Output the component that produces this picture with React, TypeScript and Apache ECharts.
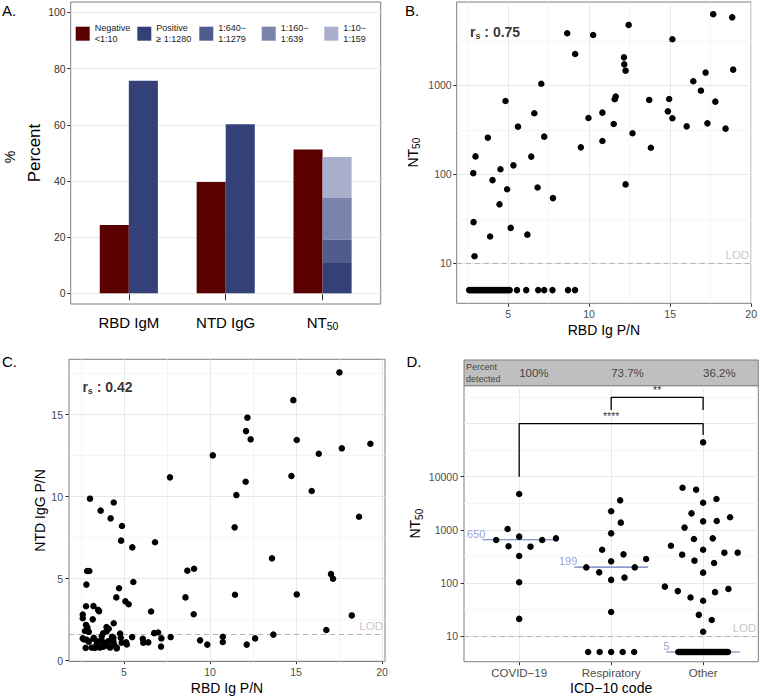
import React, { useEffect, useRef } from 'react';
import * as echarts from 'echarts';

const FONT = '"Liberation Sans", Arial, Helvetica, sans-serif';

// ---------------- Panel A : percent positive ----------------
const assayCategories = ['RBD IgM', 'NTD IgG', 'NT50'];
const negativePercent = [24.3, 39.6, 51.2];
const positive1280Percent = [75.7, 60.2, 10.8];
const positive640Percent = [0, 0, 8.4];
const positive160Percent = [0, 0, 14.7];
const positive10Percent = [0, 0, 14.6];
const percentTicks = [0, 20, 40, 60, 80, 100];

// ---------------- Panel B : NT50 vs RBD Ig P/N ----------------
const bRbd = [
  17.66, 18.83, 12.44, 8.65, 10.25, 15.14, 9.14, 12.15, 12.17, 12.25, 17.19, 18.89,
  7.05, 16.43, 16.9, 11.64, 11.58, 4.84, 13.71, 14.94, 17.79, 14.86, 10.82, 6.62,
  9.96, 15.14, 5.61, 11.52, 16.02, 17.3, 18.42, 12.68, 7.23, 3.75, 10.82, 9.49,
  13.81, 2.99, 6.43, 5.33, 4.53, 2.85, 4.04, 12.25, 4.94, 6.82, 7.77, 4.47, 2.87,
  5.16, 3.89, 6.19, 2.93,
  2.6, 2.7, 2.8, 2.9, 3.0, 3.1, 3.2, 3.3, 3.4, 3.5, 3.6, 3.7, 3.8, 3.9, 4.0, 4.1,
  4.2, 4.3, 4.4, 4.5, 4.6, 4.7, 4.8, 4.9, 5.0, 5.1, 5.55, 6.12, 6.86, 7.23, 7.74,
  8.7, 9.13,
];
const bNt50 = [
  6300, 5800, 4770, 3840, 3680, 3290, 2250, 2060, 1720, 1460, 1390, 1500,
  1040, 1110, 870, 746, 697, 667, 685, 702, 655, 510, 493, 485,
  429, 426, 343, 368, 346, 374, 326, 289, 265, 258, 237, 201,
  199, 159, 158, 126, 114, 103, 86, 77, 68, 71, 54, 46, 29,
  25, 20, 21, 12,
  5, 5, 5, 5, 5, 5, 5, 5, 5, 5, 5, 5, 5, 5, 5, 5,
  5, 5, 5, 5, 5, 5, 5, 5, 5, 5, 5, 5, 5, 5, 5,
  5, 5,
];
const bCorrelation = '0.75';
const bXTicks = [5, 10, 15, 20];
const bXMinor = [2.5, 7.5, 12.5, 17.5];
const bYTicks = [10, 100, 1000];
const bYMinor = [3.162, 31.62, 316.2, 3162];

// ---------------- Panel C : NTD IgG vs RBD Ig ----------------
const cRbd = [
  17.52, 14.84, 12.17, 12.09, 12.36, 15.04, 17.66, 19.32, 16.32, 10.16, 7.67, 14.73,
  12.07, 11.53, 15.91, 3.02, 4.4, 3.64, 4.22, 18.66, 4.88, 11.43, 4.83, 6.8, 5.48,
  13.6, 2.85, 2.98, 8.68, 9.07, 17.03, 17.15, 5.54, 2.81, 4.71, 8.57, 4.55, 11.45,
  15.04, 5.08, 5.27, 2.79, 3.22, 3.49, 3.55, 6.57, 9.05, 18.24, 2.6, 2.6, 3.18, 4.4,
  2.79, 2.87, 3.98, 4.11, 16.76, 2.73, 2.95, 3.99, 3.78, 4.77, 6.75, 6.98, 13.68,
  2.6, 2.83, 3.22, 3.24, 3.7, 4.3, 4.81, 4.38, 5.47, 6.09, 7.17, 7.71, 10.74, 12.62,
  2.67, 9.42, 10.74, 6.12, 6.41, 5.12, 2.95, 3.41, 3.99, 4.42, 3.8, 4.09, 3.57, 9.84,
  12.13, 7.15, 4.57, 2.77, 4.86, 3.41, 3.7, 3.9, 4.09, 4.38, 5.16, 3.12, 3.31, 3.6,
  4.19, 4.58,
];
const cNtd = [
  17.58, 15.89, 14.82, 14.0, 13.5, 13.46, 12.95, 13.23, 12.62, 12.52, 11.18, 11.26,
  10.91, 10.1, 10.35, 9.88, 9.65, 9.15, 8.68, 8.78, 8.21, 8.13, 7.32, 7.22, 6.91,
  6.24, 5.47, 5.47, 5.49, 5.61, 5.28, 5.0, 4.8, 4.64, 4.42, 3.86, 3.86, 4.02,
  4.04, 3.62, 3.44, 3.32, 3.33, 3.1, 3.02, 3.0, 2.83, 2.76, 2.82, 2.59, 2.52, 2.28,
  2.18, 2.03, 2.05, 1.95, 1.87, 1.81, 1.76, 1.8, 1.67, 1.66, 1.68, 1.72, 1.59,
  1.36, 1.28, 1.34, 1.4, 1.48, 1.46, 1.4, 1.4, 1.44, 1.33, 1.36, 1.44, 1.46, 1.36,
  1.3, 1.24, 1.14, 1.1, 1.12, 1.12, 1.16, 1.0, 1.02, 0.98, 0.85, 0.89, 0.89, 0.98,
  0.98, 0.86, 0.75, 0.78, 1.1, 1.2, 1.23, 1.07, 1.19, 1.19, 0.99, 0.8, 0.78, 0.8,
  0.8, 0.8,
];
const cCorrelation = '0.42';
const cLod = 1.61;
const cYTicks = [0, 5, 10, 15];
const cYMinor = [2.5, 7.5, 12.5, 17.5];

// ---------------- Panel D : NT50 by ICD-10 code ----------------
const icdCategories = ['COVID\u221219', 'Respiratory', 'Other'];
const percentDetected = ['100%', '73.7%', '36.2%'];
const groupMedians = [650, 199, 5];
const covidNt50 = [4720, 1035, 743, 643, 643, 690, 489, 481, 321, 103, 21];
const covidJitter = [0, -0.126, 0, -0.25, 0.25, 0.4, -0.116, 0.123, 0, 0, 0];
const covidUndetected: number[] = [];
const respNt50 = [3590, 2230, 1364, 858, 422, 345, 282, 255, 196, 196, 158, 126, 114, 28.3];
const respJitter = [0.098, 0, 0.105, 0, -0.098, 0.134, 0.38, 0, -0.27, 0.257, -0.13, 0.145, 0, 0];
const respUndetected = [5, 5, 5, 5, 5];
const otherNt50 = [
  44400, 6210, 5700, 3800, 3240, 2040, 1720, 1443, 1466, 1100, 671, 690, 502, 422,
  371, 371, 340, 262, 237, 156, 85, 70, 77, 53, 67, 46, 25, 20, 12,
];
const otherJitter = [
  0, -0.224, -0.076, 0.145, 0, -0.126, 0.293, 0, 0.148, -0.202, -0.1, 0.105, -0.35, 0,
  0.231, 0.376, -0.228, -0.094, 0.119, 0, -0.416, -0.275, 0.275, -0.137, 0.13, 0, -0.047, 0.094, 0,
];
const otherUndetected = [
  5, 5, 5, 5, 5, 5, 5, 5, 5, 5, 5, 5, 5, 5, 5, 5, 5, 5, 5, 5, 5, 5, 5, 5, 5, 5,
  5, 5, 5, 5, 5, 5, 5, 5, 5, 5, 5, 5, 5, 5, 5, 5, 5, 5, 5, 5, 5, 5, 5, 5, 5,
];
const dYTicks = [10, 100, 1000, 10000];
const dYMajorGrid = [10, 100, 1000, 10000, 100000];
const dYMinor = [31.62, 316.2, 3162, 31623, 316228];
const lodValue = 10;
const brackets = [
  { from: 1, to: 3, top: 100000, leftEnd: 10000, rightEnd: 61000, label: '****' },
  { from: 2, to: 3, top: 313000, leftEnd: 180000, rightEnd: 180000, label: '**' },
];

// ---------------- styling ----------------
const BORDER = '#7f7f7f';
const TICK = '#333333';
const TICKLABEL = '#4d4d4d';
const GRID_MAJOR = '#e8e8e8';
const GRID_MINOR = '#f2f2f2';
const COLORS = {
  neg: '#5b0000',
  p1280: '#344178',
  p640: '#505b8e',
  p160: '#7a83ab',
  p10: '#a9aecb',
  median: '#6577b8',
  medianText: '#7f8cc8',
};

function spreadTies(n: number, spacing: number, halfWidth: number) {
  const step = n > 1 ? Math.min(spacing, (2 * halfWidth) / (n - 1)) : 0;
  return Array.from({ length: n }, (_, k) => (k - (n - 1) / 2) * step);
}

function gridHelper(idx: number, xMajor: number[], xMinor: number[], yMajor: number[], yMinor: number[], extra: any[] = []) {
  const maj = { color: GRID_MAJOR, width: 1, type: 'solid' };
  const mnr = { color: GRID_MINOR, width: 0.8, type: 'solid' };
  return {
    type: 'scatter',
    xAxisIndex: idx,
    yAxisIndex: idx,
    data: [],
    silent: true,
    z: 1,
    markLine: {
      silent: true,
      symbol: ['none', 'none'],
      animation: false,
      label: { show: false },
      emphasis: { disabled: true },
      data: [
        ...xMinor.map((v) => ({ xAxis: v, lineStyle: mnr })),
        ...yMinor.map((v) => ({ yAxis: v, lineStyle: mnr })),
        ...xMajor.map((v) => ({ xAxis: v, lineStyle: maj })),
        ...yMajor.map((v) => ({ yAxis: v, lineStyle: maj })),
        ...extra,
      ],
    },
  };
}

function lodLine(v: number) {
  return {
    yAxis: v,
    lineStyle: { color: '#b3b3b3', width: 1, type: [5, 4] },
    label: { show: true, position: 'insideEndTop', formatter: 'LOD', color: '#c8c8c8', fontSize: 11.5, fontFamily: FONT, distance: 2 },
  };
}

const sciRich = {
  t: { fontSize: 14, lineHeight: 18, color: '#000', fontFamily: FONT },
  s: { fontSize: 10, lineHeight: 10, verticalAlign: 'bottom', color: '#000', fontFamily: FONT },
};

function valueAxis(gridIndex: number, o: any) {
  const ticks = o.ticks;
  return {
    gridIndex,
    type: o.type || 'value',
    logBase: 10,
    min: o.min,
    max: o.max,
    splitLine: { show: false },
    minorSplitLine: { show: false },
    axisLine: { show: false },
    axisTick: { show: true, length: o.tickLen || 3.5, customValues: ticks, lineStyle: { color: TICK, width: 1 } },
    axisLabel: {
      customValues: ticks,
      margin: o.margin || 5,
      fontSize: o.fontSize || 10.5,
      color: o.labelColor || TICKLABEL,
      fontFamily: FONT,
      formatter: o.formatter || ((v: number) => (ticks.some((t: number) => Math.abs(t - v) < 1e-6 * Math.max(1, Math.abs(t))) ? String(v) : '')),
      rich: o.rich,
    },
    name: o.name,
    nameLocation: 'middle',
    nameGap: o.nameGap,
    nameTextStyle: { fontSize: o.nameSize || 14, color: '#000', fontFamily: FONT, rich: o.nameRich },
  };
}

function barSeries(name: string, color: string, los: number[], his: number[], side: number) {
  return {
    type: 'custom',
    name,
    xAxisIndex: 0,
    yAxisIndex: 0,
    z: 10,
    itemStyle: { color },
    encode: { x: 0, y: [1, 2] },
    data: his.map((h, i) => [i + 1, los[i], h]).filter((d) => d[2] > d[1]),
    renderItem: (params: any, api: any) => {
      const x = api.value(0);
      const top = api.coord([x, api.value(2)]);
      const bot = api.coord([x, api.value(1)]);
      const w = api.size([0.3, 0])[0];
      return {
        type: 'rect',
        shape: { x: side < 0 ? bot[0] - w : bot[0], y: top[1], width: w, height: bot[1] - top[1] },
        style: { fill: api.visual('color') },
      };
    },
  };
}

const noBorderLabel = { textBorderWidth: 0, textBorderColor: 'transparent', textShadowBlur: 0 };

function buildOption() {
  // stacked NT50 titres
  const zeros = negativePercent.map(() => 0);
  const c1 = positive1280Percent.map((v, i) => zeros[i] + v);
  const c2 = c1.map((v, i) => v + positive640Percent[i]);
  const c3 = c2.map((v, i) => v + positive160Percent[i]);
  const c4 = c3.map((v, i) => v + positive10Percent[i]);

  const legendItems = [
    { name: 'neg', label: 'Negative\n<1:10', left: 75.7 },
    { name: 'p1280', label: 'Positive\n\u2265 1:1280', left: 137.3 },
    { name: 'p640', label: '1:640\u2212\n1:1279', left: 199.3 },
    { name: 'p160', label: '1:160\u2212\n1:639', left: 261.7 },
    { name: 'p10', label: '1:10\u2212\n1:159', left: 324.3 },
  ];

  // panel D points
  const groups = [
    { v: covidNt50, j: covidJitter, u: covidUndetected },
    { v: respNt50, j: respJitter, u: respUndetected },
    { v: otherNt50, j: otherJitter, u: otherUndetected },
  ];
  const dPoints: number[][] = [];
  groups.forEach((g, gi) => {
    g.v.forEach((val, k) => dPoints.push([gi + 1 + g.j[k], val]));
    const offs = spreadTies(g.u.length, 0.125, 0.27);
    g.u.forEach((val, k) => dPoints.push([gi + 1 + offs[k], val]));
  });

  const rsRich = {
    r: { fontSize: 14, fontWeight: 'bold', color: '#000', fontFamily: FONT, lineHeight: 18 },
    s: { fontSize: 9, fontWeight: 'bold', color: '#000', fontFamily: FONT, verticalAlign: 'bottom', lineHeight: 9 },
  };

  const annot = (idx: number, x: number, y: number, text: string) => ({
    type: 'scatter',
    xAxisIndex: idx,
    yAxisIndex: idx,
    symbolSize: 0,
    silent: true,
    z: 12,
    itemStyle: { color: '#000' },
    data: [[x, y]],
    label: { show: true, position: 'right', distance: 0, formatter: text, rich: rsRich, ...noBorderLabel },
  });

  const points = (idx: number, data: number[][]) => ({
    type: 'scatter', xAxisIndex: idx, yAxisIndex: idx, z: 10, symbolSize: 6.5, silent: true,
    itemStyle: { color: '#000', opacity: 1 },
    data,
  });

  const gridBox = { show: true, borderColor: BORDER, borderWidth: 1, backgroundColor: 'transparent' };

  return {
    animation: false,
    backgroundColor: '#ffffff',
    textStyle: { fontFamily: FONT },
    grid: [
      { left: 70.7, top: 2, width: 310, height: 302, ...gridBox },
      { left: 456.7, top: 2, width: 296, height: 301.3, ...gridBox },
      { left: 69, top: 359.3, width: 316, height: 302.2, ...gridBox },
      { left: 464, top: 385.7, width: 294.3, height: 276, ...gridBox },
      { left: 464, top: 360, width: 294.3, height: 25.7, show: true, borderColor: BORDER, borderWidth: 1, backgroundColor: '#bfbfbf' },
    ],
    xAxis: [
      valueAxis(0, {
        min: 0.4, max: 3.6, ticks: [1, 2, 3], tickLen: 7, margin: 9, fontSize: 15, labelColor: '#000',
        formatter: (v: number) => {
          const s = assayCategories[Math.round(v) - 1] || '';
          return s === 'NT50' ? '{a|NT}{b|50}' : '{a|' + s + '}';
        },
        rich: {
          a: { fontSize: 15, lineHeight: 18, color: '#000', fontFamily: FONT },
          b: { fontSize: 10.5, lineHeight: 10, verticalAlign: 'bottom', color: '#000', fontFamily: FONT },
        },
      }),
      valueAxis(1, { min: 1.83, max: 20, ticks: bXTicks, name: 'RBD Ig P/N', nameGap: 20 }),
      valueAxis(2, { min: 1.8, max: 20.17, ticks: bXTicks, name: 'RBD Ig P/N', nameGap: 19 }),
      valueAxis(3, {
        min: 0.4, max: 3.6, ticks: [1, 2, 3], fontSize: 11.5, margin: 5,
        formatter: (v: number) => icdCategories[Math.round(v) - 1] || '',
        name: 'ICD\u221210 code', nameGap: 19,
      }),
      { gridIndex: 4, type: 'value', min: 0.4, max: 3.6, show: false },
    ],
    yAxis: [
      valueAxis(0, { min: -3.8, max: 103.7, ticks: percentTicks, labelColor: '#333', name: 'Percent', nameSize: 17, nameGap: 28 }),
      valueAxis(1, {
        type: 'log', min: 3.553, max: 8630, ticks: bYTicks, margin: 5,
        name: '{t|NT}{s|50}', nameGap: 35, nameRich: sciRich,
      }),
      valueAxis(2, { min: -0.05, max: 18.38, ticks: cYTicks, margin: 6, name: 'NTD IgG P/N', nameGap: 20 }),
      valueAxis(3, {
        type: 'log', min: 3.28, max: 517600, ticks: dYTicks, margin: 6,
        name: '{t|NT}{s|50}', nameGap: 40, nameRich: sciRich,
      }),
      { gridIndex: 4, type: 'value', min: 0, max: 1, show: false },
    ],
    legend: legendItems.map((it) => ({
      data: [it.name],
      left: it.left,
      top: 17.2,
      padding: 0,
      itemWidth: 14,
      itemHeight: 14,
      itemGap: 0,
      icon: 'rect',
      selectedMode: false,
      formatter: () => it.label,
      textStyle: { fontSize: 9, lineHeight: 11.5, color: '#1a1a1a', fontFamily: FONT, padding: [0, 0, 10, 0] },
    })),
    graphic: [
      { type: 'text', x: 2, y: 10, style: { text: 'A.', fontSize: 15, fill: '#000', fontFamily: FONT, verticalAlign: 'middle' } },
      { type: 'text', x: 405, y: 10, style: { text: 'B.', fontSize: 15, fill: '#000', fontFamily: FONT, verticalAlign: 'middle' } },
      { type: 'text', x: 2, y: 361, style: { text: 'C.', fontSize: 15, fill: '#000', fontFamily: FONT, verticalAlign: 'middle' } },
      { type: 'text', x: 406.5, y: 361.5, style: { text: 'D.', fontSize: 15, fill: '#000', fontFamily: FONT, verticalAlign: 'middle' } },
      { type: 'text', x: 9.5, y: 157, rotation: Math.PI / 2, style: { text: '%', fontSize: 14, fill: '#000', fontFamily: FONT, align: 'center', verticalAlign: 'middle' } },
    ],
    series: [
      // Panel A
      gridHelper(0, [], [], percentTicks, []),
      barSeries('neg', COLORS.neg, zeros, negativePercent, -1),
      barSeries('p1280', COLORS.p1280, zeros, c1, 1),
      barSeries('p640', COLORS.p640, c1, c2, 1),
      barSeries('p160', COLORS.p160, c2, c3, 1),
      barSeries('p10', COLORS.p10, c3, c4, 1),
      // Panel B
      gridHelper(1, bXTicks, bXMinor, bYTicks, bYMinor, [lodLine(lodValue)]),
      points(1, bRbd.map((x, i) => [x, bNt50[i]])),
      annot(1, 2.65, 4000, '{r|r}{s|s}{r| : ' + bCorrelation + '}'),
      // Panel C
      gridHelper(2, bXTicks, bXMinor, cYTicks, cYMinor, [lodLine(cLod)]),
      points(2, cRbd.map((x, i) => [x, cNtd[i]])),
      annot(2, 2.58, 16.7, '{r|r}{s|s}{r| : ' + cCorrelation + '}'),
      // Panel D
      gridHelper(3, [1, 2, 3], [], dYMajorGrid, dYMinor, [lodLine(lodValue)]),
      ...groupMedians.map((m, i) => ({
        type: 'line', xAxisIndex: 3, yAxisIndex: 3, z: 9, silent: true, symbol: 'none',
        lineStyle: { color: COLORS.median, width: 1.2 },
        itemStyle: { color: COLORS.median },
        data: [[i + 1 - 0.4, m], [i + 1 + 0.4, m]],
      })),
      ...brackets.map((b) => ({
        type: 'line', xAxisIndex: 3, yAxisIndex: 3, z: 11, silent: true, symbol: 'none',
        lineStyle: { color: '#000', width: 1.3 },
        itemStyle: { color: '#000' },
        data: [[b.from, b.leftEnd], [b.from, b.top], [b.to, b.top], [b.to, b.rightEnd]],
      })),
      {
        type: 'scatter', xAxisIndex: 3, yAxisIndex: 3, z: 12, symbolSize: 0, silent: true,
        itemStyle: { color: '#000' },
        data: brackets.map((b) => [(b.from + b.to) / 2, b.top]),
        label: {
          show: true, position: 'top', distance: 2, fontSize: 10.5, color: '#000', fontFamily: FONT, ...noBorderLabel,
          formatter: (p: any) => brackets[p.dataIndex].label,
        },
      },
      {
        type: 'scatter', xAxisIndex: 3, yAxisIndex: 3, z: 12, symbolSize: 0, silent: true,
        itemStyle: { color: COLORS.medianText },
        data: groupMedians.map((m, i) => [i + 1 - 0.4, m]),
        label: {
          show: true, position: 'left', distance: 0, offset: [3, -6], fontSize: 11, color: COLORS.medianText, fontFamily: FONT, ...noBorderLabel,
          formatter: (p: any) => String(groupMedians[p.dataIndex]),
        },
      },
      points(3, dPoints),
      // strip above D
      {
        type: 'scatter', xAxisIndex: 4, yAxisIndex: 4, z: 12, symbolSize: 0, silent: true,
        itemStyle: { color: '#1a1a1a' },
        data: percentDetected.map((_, i) => [i + 1, 0.5]),
        label: {
          show: true, position: 'right', distance: 0, fontSize: 11.5, color: '#1a1a1a', fontFamily: FONT, ...noBorderLabel,
          formatter: (p: any) => percentDetected[p.dataIndex],
        },
      },
      {
        type: 'scatter', xAxisIndex: 4, yAxisIndex: 4, z: 12, symbolSize: 0, silent: true,
        itemStyle: { color: '#1a1a1a' },
        data: [[0.4, 0.5]],
        label: {
          show: true, position: 'right', distance: 2, fontSize: 9, lineHeight: 11.5, color: '#1a1a1a', fontFamily: FONT, ...noBorderLabel,
          formatter: 'Percent\ndetected',
        },
      },
    ],
  };
}

export default function App() {
  const ref = useRef<HTMLDivElement>(null);
  useEffect(() => {
    const chart = echarts.init(ref.current!, null, { renderer: 'svg' });
    chart.setOption(buildOption() as any);
    return () => chart.dispose();
  }, []);
  return (
    <div
      ref={ref}
      style={{ position: 'absolute', left: 0, top: 0, width: 760, height: 697, background: '#fff' }}
    />
  );
}
